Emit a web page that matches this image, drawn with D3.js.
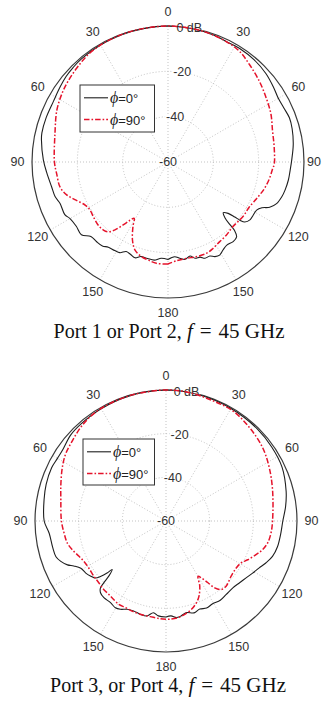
<!DOCTYPE html>
<html>
<head>
<meta charset="utf-8">
<script src="https://cdn.jsdelivr.net/npm/d3@7"></script>
<style>
  html, body { margin: 0; padding: 0; background: #fff; }
  svg { display: block; }
</style>
</head>
<body>
<svg id="chart" width="323" height="702"></svg>
<script>
// Angular grid (degrees clockwise from boresight) and the labels printed for them
const angleTicks = [0, 30, 60, 90, 120, 150, 180, 210, 240, 270, 300, 330];
const angleTickLabels = ["0", "30", "60", "90", "120", "150", "180", "150", "120", "90", "60", "30"];
// Radial grid (normalised gain, dB)
const gainTicks = [-60, -40, -20, 0];
const gainTickLabels = ["-60", "-40", "-20", "0 dB"];
const seriesNames = ["=0°", "=90°"];

// Normalised radiation patterns: [theta (deg, negative = left half), gain (dB)]
const port12Phi0 = [
  [-180,-17],[-176,-17.4],[-172,-16.3],[-168,-16.5],[-164,-16.6],[-161,-15.3],[-158,-16.0],[-155,-16.4],
  [-152,-14.7],[-149,-14.4],[-145,-14.1],[-142,-13.0],[-138,-12.8],[-134,-12.7],[-130,-10.1],[-125,-10.6],
  [-120,-10.1],[-117,-8.9],[-111,-9.0],[-107,-7.9],[-102,-7.5],[-95,-6.3],[-89,-5.0],[-80,-3.3],[-77,-2.9],
  [-70,-2.8],[-62,-2.8],[-55,-2.0],[-50,-1.3],[-45,-0.9],[-40,-0.6],[-30,-0.4],[-20,-0.3],[-10,-0.2],[0,0],
  [10,-0.2],[20,-0.5],[26,-1.0],[33,-0.8],[40,-1.0],[48,-1.8],[55,-3.0],[60,-3.8],[65,-3.6],[70,-3.0],
  [75,-3.3],[82,-4.2],[89,-5.4],[94,-6.0],[98.5,-6.3],[103.5,-6.9],[107,-7.5],[111,-8.7],[114,-10.9],
  [116,-13.9],[118.5,-15.5],[122,-15.7],[125,-15.7],[128,-17],[129,-19.2],[129.5,-21.8],[130.5,-25.1],
  [132.5,-26.9],[134.5,-24.7],[135.3,-21],[135.8,-17.9],[137.5,-15.2],[140.7,-14.6],[144.7,-15.1],
  [148,-14.2],[151,-13.0],[153.6,-13.4],[156,-14.6],[159,-14.5],[161.4,-15.7],[164.3,-15.9],[166.8,-17.4],
  [170,-16.4],[173,-17.2],[176,-18.1],[180,-17]
];
const port12Phi90 = [
  [-180,-15.0],[-173.5,-15.0],[-168.5,-15.9],[-164.5,-16.6],[-159.5,-18.5],[-155.5,-22.2],[-151.5,-27.6],
  [-149,-31],[-147,-29.4],[-144.5,-25.9],[-142,-22],[-139.5,-19.5],[-136.5,-18.6],[-132,-18.5],[-126,-19.2],
  [-121.5,-19.6],[-117.5,-18.8],[-112,-15.7],[-108,-13.0],[-103,-11.1],[-96,-10.6],[-90,-9.9],[-76,-8.6],
  [-65,-5.9],[-57,-4.3],[-51,-3.3],[-44,-2.2],[-37,-1.0],[-31,-0.5],[-25,-0.3],[-15,-0.1],[0,0],
  [15,-0.3],[26,-1.0],[33,-1.9],[40,-4.0],[48.5,-6.2],[57,-8.3],[65,-9.9],[73.5,-11.9],[82,-12.7],
  [91,-13.1],[94,-13.8],[99.5,-14.7],[105.5,-15.9],[111.5,-17.5],[119,-19.0],[126,-19.1],[135,-19.6],
  [141.5,-18.7],[147,-18.1],[152.5,-17.0],[157,-16.3],[163,-16.4],[169,-16.7],[175,-16.3],[180,-15.0]
];
const port34Phi0 = [
  [-180,-16.0],[-175.4,-16.4],[-172.2,-17.6],[-168.6,-15.6],[-164.5,-15.7],[-160.2,-16.2],[-156.2,-15.8],
  [-152.7,-14.5],[-149.7,-14.0],[-145.8,-14.8],[-141,-14.8],[-137.6,-15.5],[-135.6,-17.1],[-134.8,-19.8],
  [-133.8,-24],[-132,-26.8],[-131.4,-24],[-130.2,-20.7],[-129,-18.5],[-126,-17.2],[-123,-16.2],[-119,-15.4],
  [-116,-13.0],[-114,-10.6],[-111,-8.4],[-108,-7.0],[-103,-6.7],[-96,-6.2],[-90,-4.2],[-80,-3.3],[-73,-2.6],
  [-65,-2.2],[-60,-2.6],[-55,-2.5],[-48,-1.2],[-41,-0.9],[-30,-0.6],[-17,-0.3],[0,0],
  [15,-0.3],[30,-0.5],[45,-0.6],[55,-0.9],[65,-1.4],[76,-3.3],[83,-4.8],[90,-6.5],[96,-7.1],[103,-7.6],
  [108.4,-8.6],[112.8,-10.4],[116.7,-12.2],[121,-13.7],[125.4,-15],[130,-16],[135,-16.7],[140.6,-16.5],
  [145.6,-16.0],[150.6,-16.5],[155,-16.0],[159,-16.8],[163,-16.0],[167.4,-17.0],[171,-16.0],[173.7,-15.5],
  [177,-16.5],[180,-16.0]
];
const port34Phi90 = [
  [-180,-15.0],[-176.5,-15.2],[-170.6,-15.6],[-164.5,-15.7],[-159.3,-15.9],[-154.8,-16.2],[-150.4,-16.1],
  [-146.3,-16.8],[-142,-17.4],[-137.7,-17.6],[-132.6,-18.2],[-127.5,-18.4],[-121.3,-18.6],[-116.2,-18.1],
  [-112.1,-17.0],[-107.1,-15.1],[-102.7,-13.7],[-96.8,-13.0],[-90,-12.1],[-78.8,-10.9],[-70.4,-8.9],
  [-62.5,-6.5],[-56.2,-4.7],[-49.3,-3.5],[-42.4,-2.0],[-35.6,-0.9],[-28,-0.4],[-15,-0.2],[0,0],
  [10,-0.2],[21.3,-0.9],[31.2,-1.0],[41.7,-2.6],[52.6,-4.4],[62.4,-6.7],[73.9,-9.2],[90,-11.2],[96.6,-11.6],
  [102.3,-12.4],[106.6,-13.9],[110.5,-16.0],[115.4,-18.6],[119.2,-20.6],[123.8,-21.3],[130.3,-20.9],
  [137.3,-19.4],[141.1,-19.7],[143.9,-22.1],[145.8,-25.8],[148.1,-29.3],[149.9,-30.7],[152.6,-26.4],
  [156.3,-22.4],[159.5,-20.1],[163.9,-17.9],[168.6,-16.4],[172.8,-15.4],[177.7,-15.0],[180,-15.0]
];

// Layout of the two stacked polar panels
const panels = [
  { cx: 168, cy: 162, R: 136, series: [port12Phi0, port12Phi90],
    legend: { x: 80, y: 85, w: 74.5, h: 47 },
    caption: ["Port 1 or Port 2, ", "f", "=", "45 GHz"], captionX: 169, captionY: 338 },
  { cx: 166, cy: 521, R: 131, series: [port34Phi0, port34Phi90],
    legend: { x: 83, y: 439, w: 71.5, h: 46 },
    caption: ["Port 3, or Port 4, ", "f", "=", "45 GHz"], captionX: 168, captionY: 691.5 }
];

const styles = [
  { stroke: "#1e1e1e", width: 1.1, dash: null },
  { stroke: "#e5132b", width: 1.5, dash: "5.5,2,1.6,2" }
];

const svg = d3.select("#chart");
const toRad = d => d * Math.PI / 180;
const W = 323;

panels.forEach(p => {
  const g = svg.append("g").attr("transform", `translate(${p.cx},${p.cy})`);
  const r = d3.scaleLinear().domain([-60, 0]).range([0, p.R]).clamp(true);
  const angle = d3.scaleLinear().domain([0, 360]).range([0, 2 * Math.PI]);

  // dotted spokes
  g.selectAll("line.spoke").data(angleTicks).join("line")
    .attr("class", "spoke")
    .attr("x1", 0).attr("y1", 0)
    .attr("x2", d => p.R * Math.sin(angle(d)))
    .attr("y2", d => -p.R * Math.cos(angle(d)))
    .attr("stroke", "#b4b4b4").attr("stroke-width", 0.8).attr("stroke-dasharray", "1,2");

  // dotted inner rings
  g.selectAll("circle.ring").data(gainTicks.filter(v => v > -60 && v < 0)).join("circle")
    .attr("class", "ring")
    .attr("r", d => r(d))
    .attr("fill", "none").attr("stroke", "#b4b4b4").attr("stroke-width", 0.8).attr("stroke-dasharray", "1,2");

  // outer boundary
  g.append("circle").attr("r", r(0)).attr("fill", "none").attr("stroke", "#3a3a3a").attr("stroke-width", 1.2);

  // angle labels (kept inside the page at the 90° positions)
  const labR = p.R + 14.5;
  g.selectAll("text.ang").data(angleTicks).join("text")
    .attr("class", "ang")
    .attr("x", d => {
      const x = labR * Math.sin(angle(d));
      return Math.max(-p.cx + 9, Math.min(W - p.cx - 9, x));
    })
    .attr("y", d => -labR * Math.cos(angle(d)))
    .attr("text-anchor", "middle").attr("dominant-baseline", "central")
    .attr("font-family", "Liberation Sans, Arial, sans-serif").attr("font-size", 12.5)
    .attr("fill", "#333")
    .text((d, i) => angleTickLabels[i]);

  // gain labels, placed along a line slightly right of boresight
  const labAng = toRad(9);
  g.selectAll("text.gain").data(gainTicks).join("text")
    .attr("class", "gain")
    .attr("x", d => r(d) * Math.sin(labAng))
    .attr("y", d => -r(d) * Math.cos(labAng))
    .attr("text-anchor", "middle").attr("dominant-baseline", "central")
    .attr("font-family", "Liberation Sans, Arial, sans-serif").attr("font-size", 12.5)
    .attr("fill", "#333")
    .attr("stroke", "#fff").attr("stroke-width", 3).attr("paint-order", "stroke")
    .text((d, i) => gainTickLabels[i]);

  // pattern curves
  const line = d3.lineRadial()
    .angle(d => angle(d[0]))
    .radius(d => r(d[1]))
    .curve(d3.curveCatmullRom.alpha(0.5));
  p.series.forEach((s, i) => {
    g.append("path").datum(s)
      .attr("d", line)
      .attr("fill", "none")
      .attr("stroke", styles[i].stroke)
      .attr("stroke-width", styles[i].width)
      .attr("stroke-dasharray", styles[i].dash)
      .attr("stroke-linejoin", "round");
  });

  // legend
  const L = p.legend;
  const lg = svg.append("g").attr("transform", `translate(${L.x},${L.y})`);
  lg.append("rect").attr("width", L.w).attr("height", L.h)
    .attr("fill", "#fff").attr("stroke", "#333").attr("stroke-width", 1);
  seriesNames.forEach((name, i) => {
    const y = i === 0 ? 12.8 : 34.5;
    lg.append("line").attr("x1", 4).attr("x2", 28).attr("y1", y).attr("y2", y)
      .attr("stroke", styles[i].stroke).attr("stroke-width", styles[i].width)
      .attr("stroke-dasharray", styles[i].dash);
    const t = lg.append("text").attr("x", 30).attr("y", y + 5)
      .attr("font-family", "Liberation Sans, Arial, sans-serif").attr("font-size", 13).attr("fill", "#222");
    t.append("tspan").attr("font-family", "Liberation Serif, serif").attr("font-style", "italic")
      .attr("font-size", 16).text("\u03D5");
    t.append("tspan").text(name);
  });

  // caption: plain text followed by the frequency set as math
  const cap = svg.append("text")
    .attr("x", p.captionX).attr("y", p.captionY)
    .attr("text-anchor", "middle")
    .attr("font-family", "Liberation Serif, 'Times New Roman', serif")
    .attr("font-size", 20).attr("fill", "#111");
  cap.append("tspan").text(p.caption[0]);
  cap.append("tspan").attr("font-style", "italic").attr("font-size", 21).text(p.caption[1]);
  cap.append("tspan").attr("dx", 7).attr("font-size", 21).text(p.caption[2]);
  cap.append("tspan").attr("dx", 7).attr("font-size", 21).text(p.caption[3]);
});
</script>
</body>
</html>
